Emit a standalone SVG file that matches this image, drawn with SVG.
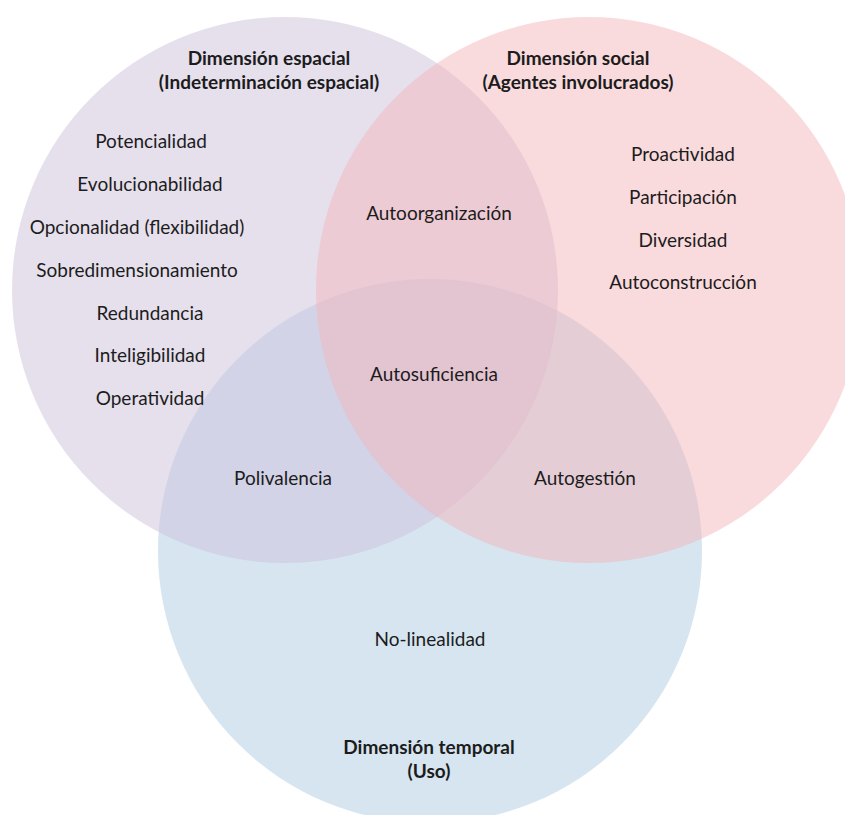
<svg xmlns="http://www.w3.org/2000/svg" width="845" height="815" viewBox="0 0 845 815">
<style>
.c{opacity:0.5}
text{font-family:Lato,"Open Sans","Noto Sans",sans-serif;font-size:19px;fill:#1c1c1c;text-anchor:middle;dominant-baseline:central}
.b{font-weight:bold}
</style>
<rect width="845" height="815" fill="#ffffff"/>
<g id="temporal">
<circle class="c" cx="430" cy="551" r="272" fill="#adcbe1"/>
</g>
<g id="espacial">
<circle class="c" cx="285" cy="290" r="273" fill="#cdc1db"/>
</g>
<g id="social">
<circle class="c" cx="589" cy="290" r="273" fill="#f3b5bb"/>
</g>
<g id="labels-espacial">
<text class="b" x="269" y="57">Dimensión espacial</text>
<text class="b" x="269" y="81">(Indeterminación espacial)</text>
<text x="151" y="140">Potencialidad</text>
<text x="150" y="183">Evolucionabilidad</text>
<text x="137" y="226">Opcionalidad (flexibilidad)</text>
<text x="137" y="269">Sobredimensionamiento</text>
<text x="150" y="312">Redundancia</text>
<text x="150" y="354">Inteligibilidad</text>
<text x="150" y="397">Operatividad</text>
</g>
<g id="labels-social">
<text class="b" x="578" y="57">Dimensión social</text>
<text class="b" x="578" y="81">(Agentes involucrados)</text>
<text x="683" y="153">Proactividad</text>
<text x="683" y="196">Participación</text>
<text x="683" y="239">Diversidad</text>
<text x="683" y="281">Autoconstrucción</text>
</g>
<g id="labels-intersecciones">
<text x="439" y="212">Autoorganización</text>
<text x="434" y="373">Autosuficiencia</text>
<text x="283" y="477">Polivalencia</text>
<text x="585" y="477">Autogestión</text>
</g>
<g id="labels-temporal">
<text x="430" y="638">No-linealidad</text>
<text class="b" x="429" y="746">Dimensión temporal</text>
<text class="b" x="429" y="770">(Uso)</text>
</g>
</svg>
